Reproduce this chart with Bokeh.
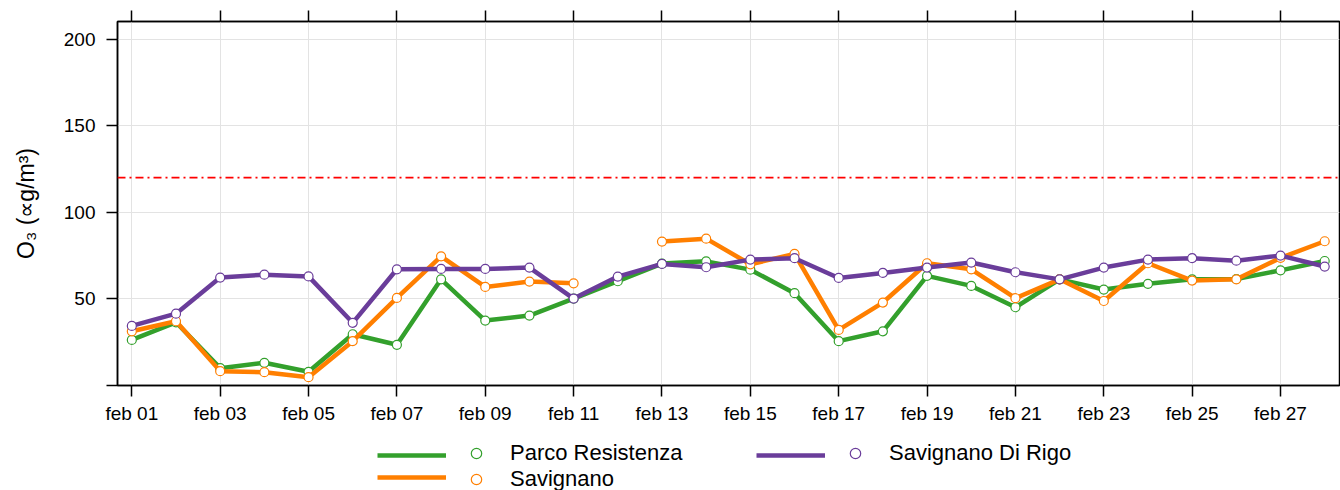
from bokeh.plotting import figure
from bokeh.layouts import column
from bokeh.models import Range1d, LinearAxis, FixedTicker, Legend, LegendItem, Span
from bokeh.embed import file_html
from bokeh.resources import INLINE

nan = float("nan")

# ---- data ----
days = [1, 2, 3, 4, 5, 6, 7, 8, 9, 10, 11, 12, 13, 14,
        15, 16, 17, 18, 19, 20, 21, 22, 23, 24, 25, 26, 27, 28]
parco_resistenza = [26.3, 36.5, 10.0, 13.1, 7.9, 29.6, 23.5, 61.3, 37.5, 40.4, 50.2, 60.2, 70.4, 71.7,
                    66.9, 53.3, 25.6, 31.3, 63.3, 57.5, 45.2, 61.3, 55.4, 58.7, 61.3, 61.5, 66.5, 71.9]
savignano = [31.3, 37.1, 8.3, 7.7, 4.8, 25.6, 50.6, 74.6, 56.9, 60.0, 59.0, nan, 83.1, 84.8,
             70.0, 76.0, 32.1, 47.9, 70.6, 67.1, 50.4, 61.3, 48.8, 70.6, 60.6, 61.3, 73.7, 83.3]
savignano_di_rigo = [34.4, 41.5, 62.3, 64.0, 63.0, 36.2, 67.1, 67.3, 67.3, 68.1, 50.2, 62.9, 70.2, 68.3,
                     72.7, 73.5, 62.1, 65.0, 68.1, 71.0, 65.4, 61.3, 68.1, 72.7, 73.5, 72.1, 75.0, 68.7]

series_names = ["Parco Resistenza", "Savignano", "Savignano Di Rigo"]
series_values = [parco_resistenza, savignano, savignano_di_rigo]
series_colors = ["#33a02c", "#ff7f00", "#6a3d9a"]

x_tick_days = [1, 3, 5, 7, 9, 11, 13, 15, 17, 19, 21, 23, 25, 27]
x_tick_labels = ["feb 01", "feb 03", "feb 05", "feb 07", "feb 09", "feb 11", "feb 13",
                 "feb 15", "feb 17", "feb 19", "feb 21", "feb 23", "feb 25", "feb 27"]
y_ticks = [0, 50, 100, 150, 200]
y_tick_labels = ["", "50", "100", "150", "200"]
threshold = 120
y_label = "O\u2083 (\u221dg/m\u00b3)"

FONT = "Liberation Sans"

p = figure(frame_width=1222, frame_height=364,
           min_border_left=117, min_border_right=1, min_border_top=21, min_border_bottom=42,
           x_range=Range1d(0.676, 28.335), y_range=Range1d(0, 210.2),
           output_backend="svg", toolbar_location=None)

p.outline_line_color = "black"
p.outline_line_width = 1.5

# grid
p.xgrid.ticker = FixedTicker(ticks=x_tick_days)
p.ygrid.ticker = FixedTicker(ticks=y_ticks[1:])
for g in (p.xgrid, p.ygrid):
    g.grid_line_color = "#e3e3e3"
    g.grid_line_width = 1

# axes
xa = p.xaxis[0]
xa.ticker = FixedTicker(ticks=x_tick_days)
xa.major_label_overrides = {d: l for d, l in zip(x_tick_days, x_tick_labels)}
ya = p.yaxis[0]
ya.ticker = FixedTicker(ticks=y_ticks)
ya.major_label_overrides = {t: l for t, l in zip(y_ticks, y_tick_labels)}
ya.axis_label = y_label
ya.axis_label_standoff = 22
ya.axis_label_text_font = FONT
ya.axis_label_text_font_size = "23px"
ya.axis_label_text_font_style = "normal"
ya.axis_label_text_color = "black"

top = LinearAxis(ticker=FixedTicker(ticks=x_tick_days))
top.major_label_overrides = {d: "" for d in x_tick_days}
top.major_label_text_font_size = "1px"
top.major_label_standoff = 0
p.add_layout(top, "above")

for ax in (xa, ya, top):
    ax.axis_line_color = "black"
    ax.axis_line_width = 1.5
    ax.major_tick_line_color = "black"
    ax.major_tick_line_width = 1.5
    ax.major_tick_out = 11
    ax.major_tick_in = 0
    ax.minor_tick_line_color = None
    ax.major_label_text_font = FONT
    ax.major_label_text_color = "black"
xa.major_label_text_font_size = "19px"
ya.major_label_text_font_size = "19px"
xa.major_label_standoff = 6
ya.major_label_standoff = 11

# threshold
p.add_layout(Span(location=threshold, dimension="width", line_color="#ff0000",
                  line_width=1.8, line_dash="8 4 2 4"))

for name, vals, col in zip(series_names, series_values, series_colors):
    p.line(days, vals, line_color=col, line_width=4.5)
    p.scatter(days, vals, marker="circle", size=9, fill_color="white",
              line_color=col, line_width=1.2)

# ---- legend (separate strip below, lattice-style key: line | point | text) ----
pl = figure(frame_width=1340, frame_height=63, min_border=0,
            x_range=Range1d(0, 1), y_range=Range1d(0, 1),
            x_axis_type=None, y_axis_type=None,
            output_backend="svg", toolbar_location=None)
pl.grid.visible = False
pl.outline_line_color = None

line_r = {}
point_r = {}
for name, col in zip(series_names, series_colors):
    line_r[name] = pl.line([nan], [nan], line_color=col, line_width=4.5)
    point_r[name] = pl.scatter([nan], [nan], marker="circle", size=10, fill_color="white",
                               line_color=col, line_width=1.2)

legend_rows = [["Parco Resistenza", "Savignano Di Rigo"], ["Savignano"]]
row_line_y = [24, 2]
row_text_y = [24, -2]
for names, ly, ty in zip(legend_rows, row_line_y, row_text_y):
    leg_l = Legend(items=[LegendItem(label=" ", renderers=[line_r[n]]) for n in names],
                   location=(377, ly), orientation="horizontal",
                   glyph_width=69, glyph_height=22, label_width=310, label_height=22,
                   label_standoff=0, spacing=0, padding=0, margin=0,
                   label_text_font=FONT, label_text_font_size="10px",
                   border_line_color=None, background_fill_alpha=0)
    leg_p = Legend(items=[LegendItem(label=n, renderers=[point_r[n]]) for n in names],
                   location=(463, ty), orientation="horizontal",
                   glyph_width=26, glyph_height=26, label_width=332, label_height=26,
                   label_standoff=21, spacing=0, padding=0, margin=0,
                   label_text_font=FONT, label_text_font_size="22px", label_text_color="black",
                   border_line_color=None, background_fill_alpha=0)
    pl.add_layout(leg_l)
    pl.add_layout(leg_p)

open("out.html", "w").write(file_html(column(p, pl), INLINE))
